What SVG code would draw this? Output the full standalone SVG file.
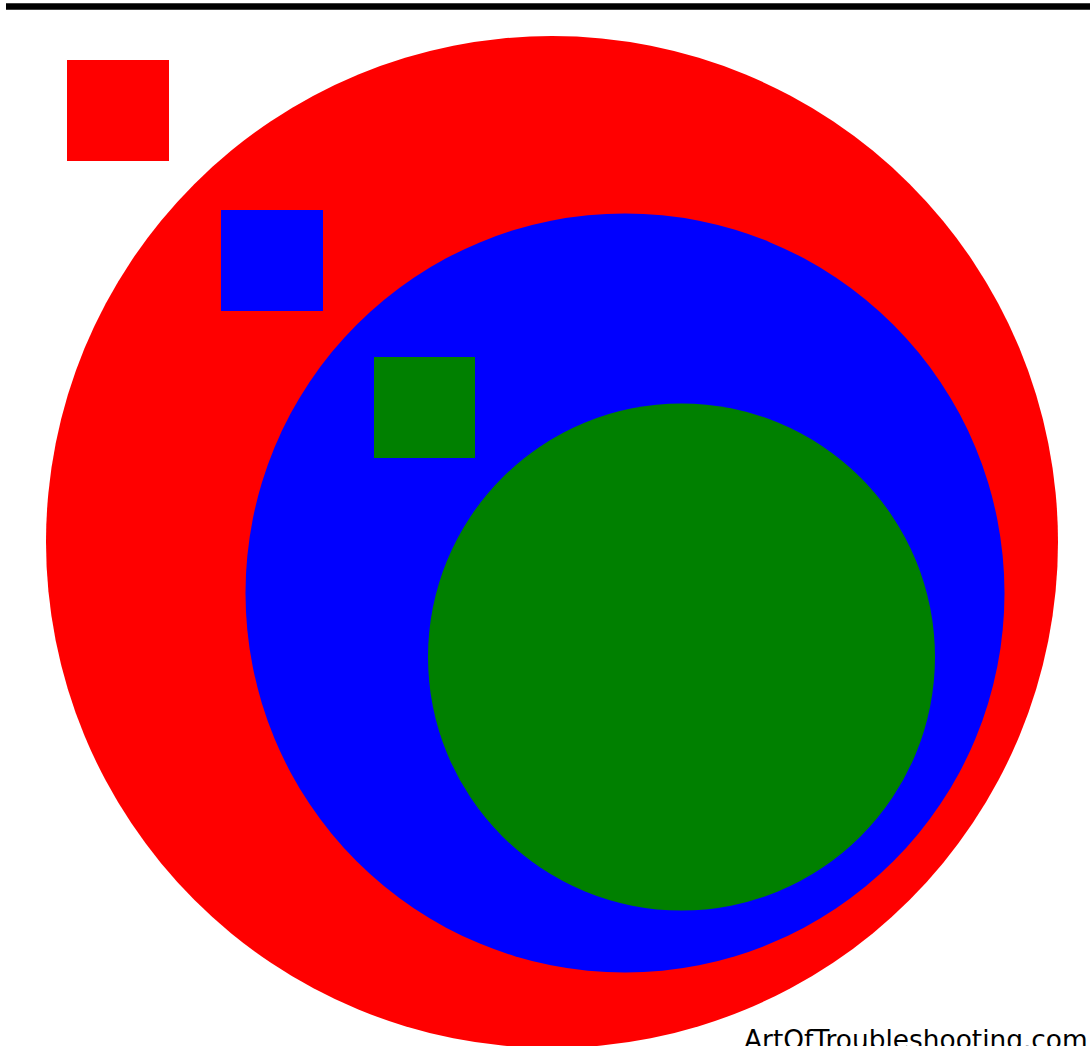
<svg xmlns="http://www.w3.org/2000/svg" width="1090" height="1046" viewBox="0 0 1090 1046">
<style>
.red{fill:#ff0000}.blue{fill:#0000ff}.green{fill:#008000}
.label{font-family:"DejaVu Sans",sans-serif;font-size:26.4px;fill:#000}
</style>
<rect x="0" y="0" width="1090" height="1046" fill="#fff"/>
<line x1="6" y1="6.5" x2="1090" y2="6.5" stroke="#000" stroke-width="6.5"/>
<g id="red-circle"><circle class="red" cx="552" cy="542" r="506"/></g>
<g id="red-square"><rect class="red" x="67" y="60" width="102" height="101"/></g>
<g id="blue-circle"><circle class="blue" cx="625" cy="593" r="379.5"/></g>
<g id="blue-square"><rect class="blue" x="221" y="210" width="102" height="101"/></g>
<g id="green-circle"><circle class="green" cx="681.5" cy="657" r="253.5"/></g>
<g id="green-square"><rect class="green" x="374" y="357" width="101" height="101"/></g>
<g id="connectors"></g>
<text class="label" x="744" y="1049">ArtOfTroubleshooting.com</text>
</svg>
